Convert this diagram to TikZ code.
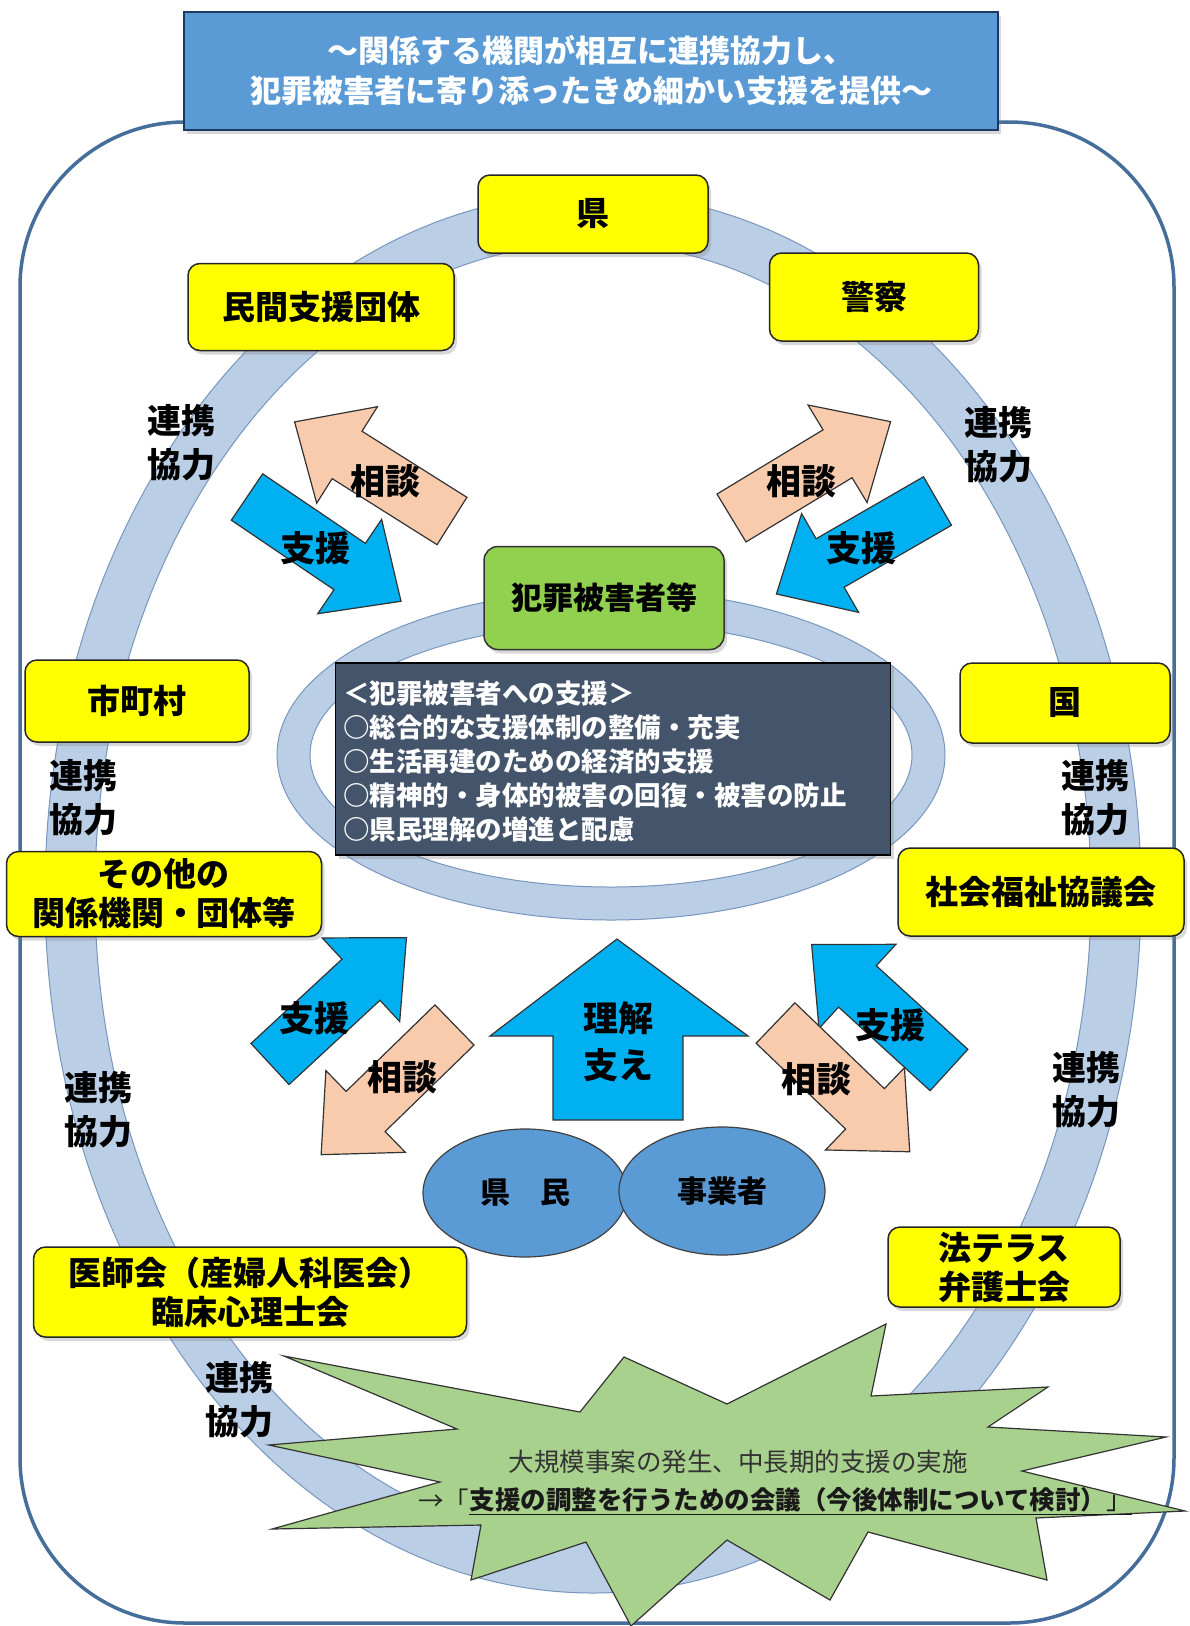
\documentclass[tikz,border=0pt]{standalone}
\usepackage{fontspec}
\setmainfont{Noto Sans CJK JP}
\usetikzlibrary{shadows,shapes.geometric}
\definecolor{ringfill}{RGB}{186,206,230}
\definecolor{ringline}{RGB}{120,150,190}
\definecolor{framecol}{RGB}{70,110,155}
\definecolor{titlefill}{RGB}{91,155,213}
\definecolor{titleline}{RGB}{31,56,100}
\definecolor{yel}{RGB}{255,255,0}
\definecolor{grn}{RGB}{146,208,80}
\definecolor{slate}{RGB}{68,84,106}
\definecolor{cyanb}{RGB}{0,176,240}
\definecolor{peach}{RGB}{248,203,173}
\definecolor{ellb}{RGB}{91,155,213}
\definecolor{starg}{RGB}{169,209,142}
\newcommand{\blockarr}[4]{\draw[#1,shift={(#2,#3)},rotate=#4] (0,28) -- (124,28) -- (124,57) -- (186,0) -- (124,-57) -- (124,-28) -- (0,-28) -- cycle;}
\begin{document}
\begin{tikzpicture}[x=1pt,y=-1pt,
  shad/.style={drop shadow={shadow xshift=3pt,shadow yshift=-4pt,opacity=0.3}},
  ybox/.style={draw=black!85,line width=1.5pt,fill=yel,rounded corners=12pt,shad,
    font=\bfseries\fontsize{33}{39}\selectfont,align=center,inner sep=0pt},
  titlebox/.style={draw=titleline,line width=1.2pt,fill=titlefill,text=white,shad,
    font=\bfseries\fontsize{31}{40}\selectfont,align=center,inner sep=0pt},
  lbl/.style={font=\bfseries\fontsize{34}{44}\selectfont,align=center,inner sep=0pt},
  arlbl/.style={font=\bfseries\fontsize{35}{44}\selectfont,align=center,inner sep=0pt},
  bluear/.style={fill=cyanb,draw=black!80,line width=1.2pt},
  peachar/.style={fill=peach,draw=black!80,line width=1.2pt},
  elln/.style={ellipse,fill=ellb,draw=black!75,line width=1.2pt,inner sep=0pt,
    font=\bfseries\fontsize{30}{36}\selectfont}]
\useasboundingbox (0,0) rectangle (1190,1626);
\fill[white] (0,0) rectangle (1190,1626);
% outer frame
\draw[framecol,line width=3.5pt,rounded corners=165pt] (20,122) rectangle (1174,1623);
% big ring
\path[fill=ringfill,even odd rule,draw=ringline,line width=1pt]
  (593,893) ellipse [x radius=548pt,y radius=700pt]
  (593,893) ellipse [x radius=498pt,y radius=650pt];
% inner ring
\path[fill=ringfill,even odd rule,draw=ringline,line width=1pt]
  (611,755) ellipse [x radius=334pt,y radius=165pt]
  (611,755) ellipse [x radius=301pt,y radius=132pt];
% block arrows
\blockarr{peachar}{452}{521}{147.8}
\blockarr{bluear}{247}{497}{-34.1}
\blockarr{peachar}{731.5}{518}{31.2}
\blockarr{bluear}{937.5}{501}{-150}
\blockarr{bluear}{270}{1064}{42.8}
\blockarr{peachar}{454.5}{1025}{-135.8}
\blockarr{bluear}{949}{1070}{137.6}
\blockarr{peachar}{775.5}{1023}{-43.8}
% big up arrow
\draw[bluear] (617,939) -- (748,1036) -- (683,1036) -- (683,1120) -- (553,1120) -- (553,1036) -- (490,1036) -- cycle;
\node[arlbl] (rikai) at (618,1018) {理解};
\node[arlbl] (sasae) at (618,1065) {支え};
% ellipses
\node[elln,minimum width=204pt,minimum height=128pt] (kenmin) at (525,1193) {県　民};
\node[elln,minimum width=206pt,minimum height=128pt] (jigyo) at (722,1191) {事業者};
% starburst
\draw[fill=starg,draw=black!80,line width=1.2pt]
  (284,1356) -- (580,1412) -- (624,1357) -- (727,1404) -- (886,1324) -- (871,1396)
  -- (1048,1387) -- (988,1427) -- (1166,1437) -- (1022,1471) -- (1185,1511) -- (1036,1518)
  -- (1047,1580) -- (868,1532) -- (830,1600) -- (727,1540) -- (631,1626) -- (586,1542)
  -- (471,1580) -- (481,1525) -- (272,1529) -- (440,1482) -- (269,1445) -- (457,1429) -- cycle;
\node[font=\fontsize{25.5}{30}\selectfont,text=black!80,inner sep=0pt] (s1) at (738,1462) {大規模事案の発生、中長期的支援の実施};
\node[font=\fontsize{25.5}{30}\selectfont,text=black!85,inner sep=0pt,anchor=west] (s2a) at (418,1500) {→「};
\node[font=\fontsize{25.5}{30}\selectfont,text=black!90,inner sep=0pt,anchor=west] (s2b) at (s2a.east) {\textbf{支援の調整を行うための会議（今後体制について検討）}」};
\draw[black!90,line width=1.6pt] ([yshift=-2pt]s2b.south west) -- ([yshift=-2pt]s2b.south east);
% title
\node[titlebox,minimum width=814pt,minimum height=118pt] (title) at (591,71)
  {～関係する機関が相互に連携協力し、\\犯罪被害者に寄り添ったきめ細かい支援を提供～};
% yellow boxes
\node[ybox,minimum width=230pt,minimum height=78pt] (ken) at (593,214) {県};
\node[ybox,minimum width=266pt,minimum height=87pt] (minkan) at (321,307) {民間支援団体};
\node[ybox,minimum width=209pt,minimum height=88pt] (keisatsu) at (874,297) {警察};
\node[ybox,minimum width=224pt,minimum height=82pt] (shichoson) at (137,701) {市町村};
\node[ybox,minimum width=210pt,minimum height=80pt] (kuni) at (1065,703) {国};
\node[ybox,minimum width=315pt,minimum height=85pt] (sonota) at (164,894) {その他の\\関係機関・団体等};
\node[ybox,minimum width=286pt,minimum height=88pt] (shakyo) at (1041,892) {社会福祉協議会};
\node[ybox,minimum width=433pt,minimum height=90pt] (ishikai) at (250,1292) {医師会（産婦人科医会）\\臨床心理士会};
\node[ybox,minimum width=232pt,minimum height=80pt] (houterasu) at (1004,1267) {法テラス\\弁護士会};
% victims box
\node[draw=black!80,line width=1.5pt,fill=grn,rounded corners=14pt,shad,inner sep=0pt,
  minimum width=240pt,minimum height=103pt,font=\bfseries\fontsize{31}{36}\selectfont] (higaisha) at (604,598) {犯罪被害者等};
% dark box
\node[draw=black,line width=1.2pt,fill=slate,shad,minimum width=555pt,minimum height=192pt] (shien) at (613,759) {};
\node[anchor=west,inner sep=0pt,text=white,align=left,font=\bfseries\fontsize{26.5}{34}\selectfont] (shientext) at (343,761)
  {＜犯罪被害者への支援＞\\○総合的な支援体制の整備・充実\\○生活再建のための経済的支援\\○精神的・身体的被害の回復・被害の防止\\○県民理解の増進と配慮};
% arrow labels
\node[arlbl] (soudan1) at (385,481) {相談};
\node[arlbl] (shien1) at (315,548) {支援};
\node[arlbl] (soudan2) at (801,481) {相談};
\node[arlbl] (shien2) at (861,548) {支援};
\node[arlbl] (shien3) at (314,1018) {支援};
\node[arlbl] (soudan3) at (402,1077) {相談};
\node[arlbl] (shien4) at (890,1025) {支援};
\node[arlbl] (soudan4) at (816,1079) {相談};
% renkei labels
\node[lbl] (r1) at (181,443) {連携\\協力};
\node[lbl] (r2) at (998,445) {連携\\協力};
\node[lbl] (r3) at (83,798) {連携\\協力};
\node[lbl] (r4) at (1095,798) {連携\\協力};
\node[lbl] (r5) at (98,1110) {連携\\協力};
\node[lbl] (r6) at (1086,1090) {連携\\協力};
\node[lbl] (r7) at (239,1400) {連携\\協力};
\end{tikzpicture}
\end{document}
